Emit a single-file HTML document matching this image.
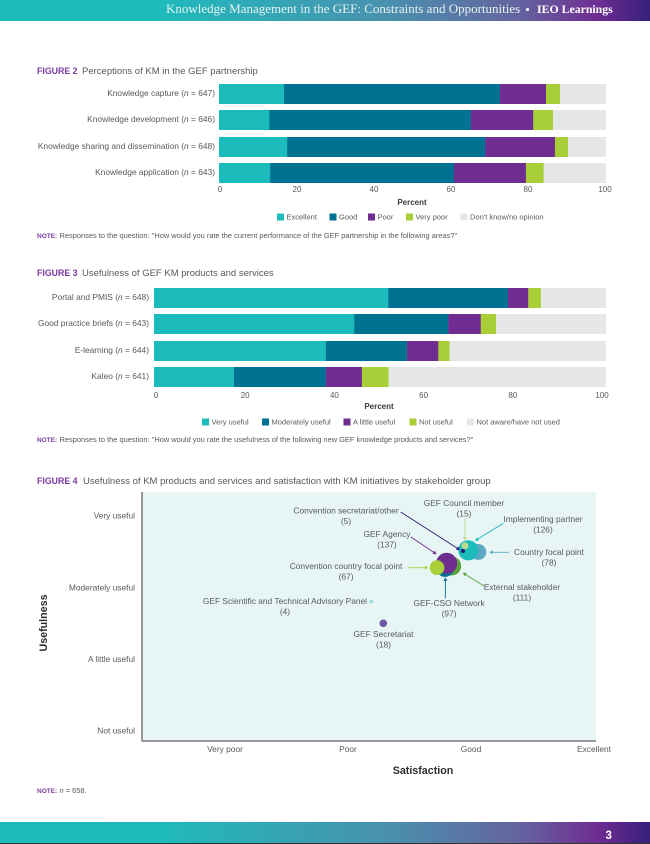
<!DOCTYPE html>
<html lang="en">
<head>
<meta charset="utf-8">
<title>Knowledge Management in the GEF</title>
<style>
html,body{margin:0;padding:0;background:#fff;width:650px;height:844px;overflow:hidden}
svg{display:block}
text{font-family:"Liberation Sans",sans-serif;fill:#58595b;font-size:8.4px}
.serif{font-family:"Liberation Serif",serif;fill:#e6f3f3;font-size:13px}
.title{font-size:9.5px}
.fig{font-size:8.8px;fill:#7a3b9e;font-weight:bold}
.note{font-size:7.45px}
.noteh{font-size:6.5px;fill:#7a3b9e;font-weight:bold}
.axt{font-size:8px;font-weight:bold;fill:#3a3a3c}
.big{font-size:10.7px;font-weight:bold;fill:#2e2e30}
.leg{font-size:7.5px}
.tick{font-size:8px}
</style>
</head>
<body>
<svg id="page" xmlns="http://www.w3.org/2000/svg" width="650" height="844" viewBox="0 0 650 844">
<defs>
<linearGradient id="band" x1="0" x2="1" y1="0" y2="0">
<stop offset="0" stop-color="#1cbcbc"/>
<stop offset="0.25" stop-color="#1fbabc"/>
<stop offset="0.6" stop-color="#4a90ae"/>
<stop offset="0.8" stop-color="#65639f"/>
<stop offset="0.92" stop-color="#6f2c91"/>
<stop offset="1" stop-color="#36207c"/>
</linearGradient>
</defs>
<rect x="0" y="0" width="650" height="21" fill="url(#band)"/>
<text class="serif" x="166" y="13">Knowledge Management in the GEF: Constraints and Opportunities</text>
<circle cx="527.5" cy="9.5" r="1.6" fill="#e6f3f3"/>
<text class="serif" x="537" y="13" style="font-weight:bold;fill:#fff;font-size:11.8px">IEO Learnings</text>

<text class="fig" x="37" y="74">FIGURE 2</text>
<text class="title" x="82" y="74">Perceptions of KM in the GEF partnership</text>
<text class="axt" x="412" y="205" text-anchor="middle">Percent</text>
<text class="noteh" x="37" y="238">NOTE:</text>
<text class="note" x="59.5" y="238">Responses to the question: "How would you rate the current performance of the GEF partnership in the following areas?"</text>

<text class="fig" x="37" y="276">FIGURE 3</text>
<text class="title" x="82" y="276">Usefulness of GEF KM products and services</text>
<text class="axt" x="379" y="409" text-anchor="middle">Percent</text>
<text class="noteh" x="37" y="442">NOTE:</text>
<text class="note" x="59.5" y="442">Responses to the question: "How would you rate the usefulness of the following new GEF knowledge products and services?"</text>

<text class="fig" x="37" y="484">FIGURE 4</text>
<text class="title" x="83" y="484">Usefulness of KM products and services and satisfaction with KM initiatives by stakeholder group</text>
<rect x="142" y="492" width="454" height="249" fill="#e8f5f5"/>
<line x1="142" y1="492" x2="142" y2="741" stroke="#77787b" stroke-width="1.5"/>
<line x1="141.5" y1="741" x2="596" y2="741" stroke="#77787b" stroke-width="1.5"/>
<g id="bubble-layer"></g>
<text class="big" transform="translate(47,623) rotate(-90)" text-anchor="middle">Usefulness</text>
<text class="big" x="423" y="774" text-anchor="middle">Satisfaction</text>
<text class="noteh" x="37" y="793">NOTE:</text>
<text class="note" x="59.5" y="793"><tspan font-style="italic">n</tspan> = 658.</text>

<g id="fig2-layer"></g>
<g id="fig3-layer"></g>

<rect x="0" y="822" width="650" height="21" fill="url(#band)"/>
<rect x="0" y="843" width="650" height="1" fill="#333"/>
<text x="605.5" y="839" style="font-size:11.5px;font-weight:bold;fill:#fff">3</text>
</svg>
<script>
const SVGNS = 'http://www.w3.org/2000/svg';

// Figure 2 data
const fig2Categories = ['Knowledge capture', 'Knowledge development', 'Knowledge sharing and dissemination', 'Knowledge application'];
const fig2Counts = [647, 646, 648, 643];
const fig2Series = ['Excellent', 'Good', 'Poor', 'Very poor', "Don't know/no opinion"];
const fig2Excellent = [16.8, 13, 17.6, 13.2];
const fig2Good = [55.8, 52.1, 51.2, 47.5];
const fig2Poor = [11.9, 16.1, 18, 18.6];
const fig2VeryPoor = [3.6, 5.1, 3.4, 4.6];
const fig2DontKnow = [11.9, 13.7, 9.8, 16.1];

// Figure 3 data
const fig3Categories = ['Portal and PMIS', 'Good practice briefs', 'E-learning', 'Kaleo'];
const fig3Counts = [648, 643, 644, 641];
const fig3Series = ['Very useful', 'Moderately useful', 'A little useful', 'Not useful', 'Not aware/have not used'];
const fig3VeryUseful = [51.8, 44.3, 38, 17.7];
const fig3Moderately = [26.5, 20.8, 18, 20.3];
const fig3ALittle = [4.5, 7.2, 6.9, 8];
const fig3NotUseful = [2.8, 3.4, 2.5, 5.9];
const fig3NotAware = [14.4, 24.3, 34.6, 48.1];

const percentTicks = [0, 20, 40, 60, 80, 100];

// Figure 4 data
const groupNames = ['Country focal point', 'Implementing partner', 'GEF Council member', 'Convention secretariat/other', 'External stakeholder', 'GEF-CSO Network', 'GEF Agency', 'Convention country focal point', 'GEF Scientific and Technical Advisory Panel', 'GEF Secretariat'];
const groupCounts = [78, 126, 15, 5, 111, 97, 137, 67, 4, 18];
const groupSatisfaction = [3.059, 2.978, 2.951, 2.935, 2.843, 2.789, 2.802, 2.724, 2.189, 2.287];
const groupUsefulness = [3.498, 3.521, 3.585, 3.512, 3.302, 3.274, 3.340, 3.279, 2.804, 2.503];
const usefulnessLabels = ['Not useful', 'A little useful', 'Moderately useful', 'Very useful'];
const satisfactionLabels = ['Very poor', 'Poor', 'Good', 'Excellent'];

const barColors = ['#1cbcbc', '#007291', '#6f2c91', '#a9cf38', '#e5e6e7'];
const bubbleColors = ['#5ca9c4', '#1cbcbc', '#bcdc8c', '#2a1a75', '#5aa23c', '#007291', '#6f2c91', '#a9cf38', '#9adcdc', '#6a5aa5'];

// Annotation offsets relative to each bubble centre: label dx,dy then arrow start and tip (omitted for unarrowed labels)
const annotationLayout = [
  {lx: 70.7, ly: 0, from: [30.7, 0.3], to: [11, 0.3]},
  {lx: 74.7, ly: -31, from: [35, -27], to: [6.7, -9.6]},
  {lx: -1, ly: -42.5, from: [0, -27.4], to: [0, -5]},
  {lx: -117, ly: -40.5, from: [-62.3, -39], to: [-3, -1]},
  {lx: 70.3, ly: 21, from: [32.3, 20], to: [11, 6.7]},
  {lx: 4, ly: 35, from: [0.3, 30.3], to: [0.3, 9.3]},
  {lx: -59.7, ly: -29.3, from: [-35.7, -26.3], to: [-10, -9]},
  {lx: -91, ly: -1.7, from: [-28.7, 0], to: [-8.7, 0]},
  {lx: -86.3, ly: -0.7},
  {lx: 0.2, ly: 10.7}
];

function mk(tag, parent, attrs) {
  const el = document.createElementNS(SVGNS, tag);
  for (const k in attrs) el.setAttribute(k, attrs[k]);
  parent.appendChild(el);
  return el;
}

function drawText(parent, name, x, y, str, anchor, cls) {
  const el = mk('text', parent, {x: x, y: y, 'text-anchor': anchor});
  
  
  if (cls) el.setAttribute('class', cls);
  el.textContent = str;
  return el;
}

function drawStacked(opts) {
  const layer = document.getElementById(opts.layer);
  const xScale = function (v) { return opts.x0 + v * opts.xk; };
  const tickScale = function (v) { return opts.t0 + v * opts.tk; };
  const yBand = function (i) { return opts.y0 + i * 26.4; };

  opts.categories.forEach(function (cat, i) {
    let cum = 0;
    const top = Math.round(yBand(i));
    opts.values.forEach(function (vals, s) {
      const r = mk('rect', layer, {x: xScale(cum), y: top, width: xScale(cum + vals[i]) - xScale(cum) + 0.15, height: 20, fill: barColors[s]});
      
      
      cum += vals[i];
    });
    const t = mk('text', layer, {x: opts.labelRight, y: top + 12, 'text-anchor': 'end'});
    
    
    t.appendChild(document.createTextNode(cat + ' ('));
    const n = mk('tspan', t, {'font-style': 'italic'});
    n.textContent = 'n';
    t.appendChild(document.createTextNode(' = ' + opts.counts[i] + ')'));
  });

  percentTicks.forEach(function (tick) {
    drawText(layer, 'x-tick-' + opts.prefix + '-' + tick, tickScale(tick), opts.tickY, String(tick), 'middle', 'tick');
  });

  opts.series.forEach(function (name, s) {
    const sw = mk('rect', layer, {x: opts.legendX[s], y: opts.legendY - 3.5, width: 7, height: 7, fill: barColors[s]});
    
    
    drawText(layer, 'legend-entry-' + opts.prefix + '-' + s, opts.legendX[s] + 9.5, opts.legendY + 2.5, name, 'start', 'leg');
  });
}

drawStacked({
  layer: 'fig2-layer', prefix: 'fig2', categories: fig2Categories, counts: fig2Counts, series: fig2Series,
  values: [fig2Excellent, fig2Good, fig2Poor, fig2VeryPoor, fig2DontKnow],
  x0: 219, xk: 3.87, t0: 220, tk: 3.85, y0: 84, labelRight: 215, tickY: 192,
  legendX: [277, 329.5, 368, 406, 460.5], legendY: 217
});

drawStacked({
  layer: 'fig3-layer', prefix: 'fig3', categories: fig3Categories, counts: fig3Counts, series: fig3Series,
  values: [fig3VeryUseful, fig3Moderately, fig3ALittle, fig3NotUseful, fig3NotAware],
  x0: 154, xk: 4.52, t0: 156, tk: 4.46, y0: 288, labelRight: 149, tickY: 398,
  legendX: [202, 262, 343.5, 409.5, 467], legendY: 422
});

// Bubble chart
const bubbleLayer = document.getElementById('bubble-layer');
function bubbleX(v) { return 225 + (v - 1) * 123; }
function bubbleY(v) { return 731 - (v - 1) * 71.67; }
function bubbleR(n) { return 0.9 * Math.sqrt(n); }

usefulnessLabels.forEach(function (label, i) {
  drawText(bubbleLayer, 'y-tick-' + i, 135, bubbleY(i + 1) + 2.7, label, 'end');
});
satisfactionLabels.forEach(function (label, i) {
  drawText(bubbleLayer, 'x-tick-' + i, bubbleX(i + 1), 752, label, 'middle');
});

groupNames.forEach(function (name, i) {
  const c = mk('circle', bubbleLayer, {cx: bubbleX(groupSatisfaction[i]), cy: bubbleY(groupUsefulness[i]), r: bubbleR(groupCounts[i]), fill: bubbleColors[i]});
  
  
});

groupNames.forEach(function (name, i) {
  const a = annotationLayout[i];
  const cx = bubbleX(groupSatisfaction[i]);
  const cy = bubbleY(groupUsefulness[i]);
  const lx = cx + a.lx;
  const ly = cy + a.ly + 2.8;
  drawText(bubbleLayer, 'bubble-label-' + i, lx, ly, name, 'middle');
  drawText(bubbleLayer, 'bubble-count-' + i, lx, ly + 10.5, '(' + groupCounts[i] + ')', 'middle');
  if (a.from) {
    const x1 = cx + a.from[0], y1 = cy + a.from[1], x2 = cx + a.to[0], y2 = cy + a.to[1];
    const ang = Math.atan2(y2 - y1, x2 - x1);
    const col = bubbleColors[i];
    const bx = x2 - 3.6 * Math.cos(ang), by = y2 - 3.6 * Math.sin(ang);
    const ln = mk('line', bubbleLayer, {x1: x1, y1: y1, x2: bx, y2: by, stroke: col, 'stroke-width': 0.9});
    
    
    const px = -Math.sin(ang) * 2, py = Math.cos(ang) * 2;
    const head = mk('polygon', bubbleLayer, {points: x2 + ',' + y2 + ' ' + (bx + px) + ',' + (by + py) + ' ' + (bx - px) + ',' + (by - py), fill: col});
    
    
  }
});
</script>
</body>
</html>
